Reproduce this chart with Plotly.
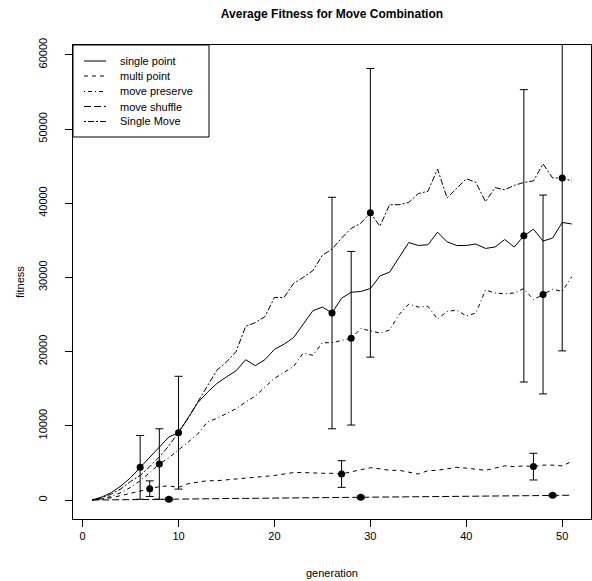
import plotly.graph_objects as go

generation = list(range(1, 52))

single_point = [0, 400, 1000, 1900, 3000, 4400, 5800, 7200, 8500, 9070,
                11000, 13100, 14500, 15700, 16600, 17400, 18900, 18100, 18900, 20300,
                21000, 21900, 23700, 25500, 26000, 25200, 27200, 28000, 28100, 28500,
                30200, 30700, 32700, 34700, 34300, 34400, 36100, 34800, 34300, 34300,
                34500, 33900, 34100, 35100, 34100, 35600, 36500, 34900, 35300, 37400, 37200]

multi_point = [0, 100, 300, 600, 900, 1200, 1530, 1800, 1900, 1700,
               2200, 2400, 2600, 2600, 2700, 2800, 2900, 3000, 3100, 3300,
               3500, 3700, 3700, 3600, 3600, 3600, 3500, 3800, 4100, 4350,
               4200, 4000, 4000, 3700, 3500, 3950, 4000, 4200, 4400, 4300,
               4100, 4000, 4300, 4600, 4500, 4600, 4500, 4700, 4700, 4600, 5200]

move_preserve = [0, 150, 500, 1000, 1700, 2600, 3700, 4850, 5700, 6700,
                 7800, 8900, 10500, 11000, 11700, 12300, 13200, 14000, 15200, 16400,
                 17200, 18000, 19800, 19500, 21200, 21200, 21500, 21800, 23100, 22800,
                 22500, 22900, 25000, 26400, 26000, 26100, 24400, 25400, 25600, 24800,
                 25200, 28300, 27900, 27800, 27900, 28500, 27000, 27700, 28400, 28100, 30100]

move_shuffle = [0, 0, 20, 40, 60, 80, 100, 100, 100, 120,
                150, 170, 180, 190, 200, 210, 220, 230, 240, 250,
                260, 270, 280, 290, 300, 310, 330, 350, 360, 380,
                390, 400, 400, 410, 420, 430, 440, 450, 460, 470,
                480, 490, 500, 520, 540, 560, 580, 600, 630, 620, 640]

single_move = [0, 300, 800, 1500, 2500, 3300, 4500, 5800, 7300, 9070,
               11000, 13200, 15300, 17500, 18600, 20000, 23400, 23900, 24700, 27300,
               27300, 29200, 30000, 30900, 33000, 33800, 35300, 36600, 37300, 38700,
               36900, 39800, 39800, 40100, 41300, 41600, 44600, 40700, 42000, 43300,
               42800, 40200, 42100, 41800, 42400, 42800, 43000, 45300, 43400, 43400, 43000]

series_names = ["single point", "multi point", "move preserve", "move shuffle", "Single Move"]
series_values = [single_point, multi_point, move_preserve, move_shuffle, single_move]
series_dash = ["solid", "4px,4px", "1px,3px,4px,3px", "7px,3px", "2px,2px,6px,2px"]

err_generations = [[6, 26, 46], [7, 27, 47], [8, 28, 48], [9, 29, 49], [10, 30, 50]]
err_halfwidths = [[4300, 15600, 19700], [1050, 1800, 1800], [4750, 11700, 13400],
                  [200, 180, 170], [7600, 19450, 23300]]

x_ticks = [0, 10, 20, 30, 40, 50]
y_ticks = [0, 10000, 20000, 30000, 40000, 50000, 60000]
y_tick_labels = ["0", "10000", "20000", "30000", "40000", "50000", "60000"]

FONT = "Liberation Sans, Arial, Helvetica, sans-serif"

fig = go.Figure()
for name, vals, dash in zip(series_names, series_values, series_dash):
    fig.add_trace(go.Scatter(x=generation, y=vals, mode="lines", name=name,
                             showlegend=False,
                             line=dict(color="black", width=1, dash=dash)))

for vals, gens, hw in zip(series_values, err_generations, err_halfwidths):
    fig.add_trace(go.Scatter(
        x=gens, y=[vals[g - 1] for g in gens], mode="markers", showlegend=False,
        marker=dict(color="black", size=7),
        error_y=dict(type="data", array=hw, symmetric=True, color="black",
                     thickness=1, width=4)))

axis_common = dict(showgrid=False, zeroline=False, showline=True, mirror=True,
                   linecolor="black", linewidth=1, ticks="outside", ticklen=7,
                   tickcolor="black", tickwidth=1,
                   tickfont=dict(family=FONT, size=11, color="black"))

fig.update_xaxes(range=[-1, 53], tickvals=x_ticks, **axis_common)
fig.update_yaxes(range=[-2560, 61320], tickvals=y_ticks, ticktext=y_tick_labels,
                 tickangle=-90, ticklabelstandoff=14, **axis_common)

# manual legend box (paper coordinates of the plot area)
PW, PH = 518.0, 474.0
def px_x(p):
    return (p - 73) / PW
def px_y(p):
    return (519 - p) / PH

shapes = [dict(type="rect", xref="paper", yref="paper",
               x0=0, x1=px_x(209), y0=px_y(137), y1=1,
               line=dict(color="black", width=1), fillcolor="white", layer="above")]
annotations = []
row_y = [61, 76, 91.5, 106.5, 121.5]
for name, dash, ry in zip(series_names, series_dash, row_y):
    shapes.append(dict(type="line", xref="paper", yref="paper",
                       x0=px_x(84), x1=px_x(106), y0=px_y(ry), y1=px_y(ry),
                       line=dict(color="black", width=1, dash=dash), layer="above"))
    annotations.append(dict(text=name, xref="paper", yref="paper",
                            x=px_x(118), y=px_y(ry), xanchor="left", yanchor="middle",
                            showarrow=False, font=dict(family=FONT, size=11)))

annotations += [
    dict(text="generation", x=0.5, xref="paper", y=0, yref="paper",
         yshift=-54, showarrow=False, yanchor="middle",
         font=dict(family=FONT, size=11)),
    dict(text="fitness", x=0, xref="paper", y=0.5, yref="paper",
         xshift=-53, showarrow=False, xanchor="center", textangle=-90,
         font=dict(family=FONT, size=11)),
]

fig.update_layout(
    width=592, height=581,
    margin=dict(l=73, r=1, t=45, b=62),
    paper_bgcolor="white", plot_bgcolor="white",
    font=dict(family=FONT, size=11, color="black"),
    showlegend=False,
    title=dict(text="<b>Average Fitness for Move Combination</b>",
               x=0.5, xref="paper", xanchor="center",
               y=1 - 14 / 581, yref="container", yanchor="middle",
               font=dict(family=FONT, size=12, color="black")),
    shapes=shapes,
    annotations=annotations,
)

fig.write_html("out.html")
